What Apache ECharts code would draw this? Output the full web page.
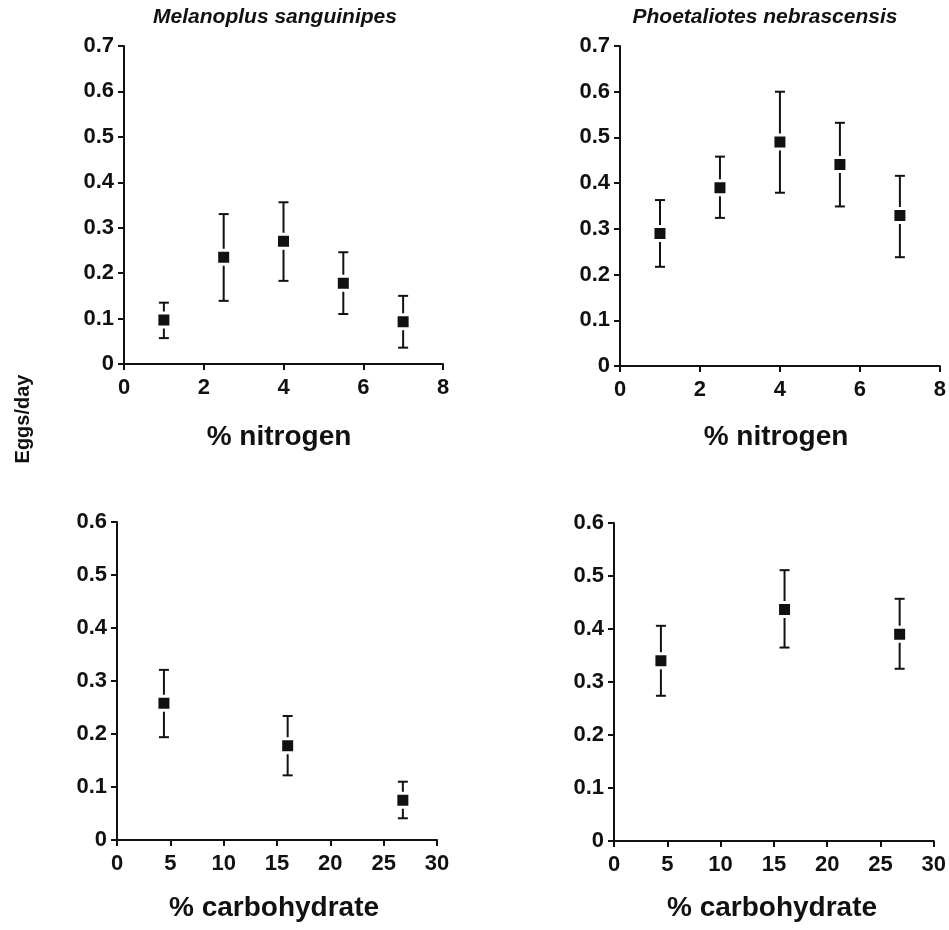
<!DOCTYPE html>
<html>
<head>
<meta charset="utf-8">
<script src="https://cdn.jsdelivr.net/npm/echarts@6/dist/echarts.min.js"></script>
<style>
  html, body { margin: 0; padding: 0; background: #fff; }
  #chart { width: 949px; height: 930px; }
</style>
</head>
<body>
<div id="chart"></div>
<script>
// nitrogen diets
const nitrogenX = [1, 2.5, 4, 5.5, 7];
const msNitroMean = [0.097, 0.235, 0.27, 0.178, 0.093];
const msNitroLow = [0.057, 0.139, 0.183, 0.110, 0.036];
const msNitroHigh = [0.135, 0.330, 0.356, 0.246, 0.150];
const pnNitroMean = [0.290, 0.390, 0.490, 0.441, 0.329];
const pnNitroLow = [0.217, 0.324, 0.379, 0.349, 0.238];
const pnNitroHigh = [0.363, 0.458, 0.600, 0.532, 0.416];

// carbohydrate diets
const carboX = [4.4, 16, 26.8];
const msCarbMean = [0.258, 0.178, 0.075];
const msCarbLow = [0.194, 0.122, 0.041];
const msCarbHigh = [0.321, 0.234, 0.110];
const pnCarbMean = [0.340, 0.437, 0.390];
const pnCarbLow = [0.274, 0.365, 0.325];
const pnCarbHigh = [0.406, 0.511, 0.457];

const titles = ['Melanoplus sanguinipes', 'Phoetaliotes nebrascensis'];
const xNames = ['% nitrogen', '% carbohydrate'];
const yName = 'Eggs/day';

const FONT = '"Liberation Sans", Arial, Helvetica, sans-serif';
const INK = '#111';

const chart = echarts.init(document.getElementById('chart'));

const grids = [
  { left: 124, top: 46, width: 319, height: 318 },
  { left: 620, top: 46, width: 322, height: 320 },
  { left: 117, top: 522, width: 320, height: 318 },
  { left: 614, top: 523, width: 322, height: 318 }
];

function xAxis(i, max, interval) {
  return {
    type: 'value', gridIndex: i, min: 0, max: max, interval: interval,
    splitLine: { show: false },
    axisLine: { lineStyle: { color: INK, width: 2 } },
    axisTick: { length: 6, lineStyle: { color: INK, width: 2 } },
    axisLabel: { color: INK, fontFamily: FONT, fontWeight: 'bold', fontSize: 22, margin: 13 }
  };
}
function yAxis(i, max) {
  return {
    type: 'value', gridIndex: i, min: 0, max: max, interval: 0.1,
    splitLine: { show: false },
    axisLine: { show: true, lineStyle: { color: INK, width: 2 } },
    axisTick: { show: true, length: 6, lineStyle: { color: INK, width: 2 } },
    axisLabel: { color: INK, fontFamily: FONT, fontWeight: 'bold', fontSize: 22, margin: 10,
      formatter: (v) => (v === 0 ? '0' : v.toFixed(1)) }
  };
}

function points(xs, ys) {
  return xs.map((x, i) => [x, ys[i]]);
}
function bars(xs, lo, hi) {
  return xs.map((x, i) => [x, lo[i], hi[i]]);
}

function errorSeries(i, data) {
  return {
    type: 'custom', xAxisIndex: i, yAxisIndex: i, data: data, z: 1,
    renderItem: function (params, api) {
      const top = api.coord([api.value(0), api.value(2)]);
      const bot = api.coord([api.value(0), api.value(1)]);
      const cap = 5;
      const style = { stroke: INK, lineWidth: 2 };
      return {
        type: 'group',
        children: [
          { type: 'line', shape: { x1: top[0], y1: top[1], x2: bot[0], y2: bot[1] }, style: style },
          { type: 'line', shape: { x1: top[0] - cap, y1: top[1], x2: top[0] + cap, y2: top[1] }, style: style },
          { type: 'line', shape: { x1: bot[0] - cap, y1: bot[1], x2: bot[0] + cap, y2: bot[1] }, style: style }
        ]
      };
    }
  };
}
function pointSeries(i, data) {
  return {
    type: 'scatter', xAxisIndex: i, yAxisIndex: i, data: data, z: 2,
    symbol: 'rect', symbolSize: 14,
    itemStyle: { color: INK, borderColor: '#fff', borderWidth: 3, opacity: 1 }
  };
}

function label(text, x, y, size, style, rotation) {
  return {
    type: 'text', x: x, y: y, rotation: rotation || 0,
    style: {
      text: text, fill: INK, textAlign: 'center', textVerticalAlign: 'middle',
      font: (style || '') + ' bold ' + size + 'px ' + FONT
    }
  };
}

chart.setOption({
  animation: false,
  grid: grids,
  xAxis: [xAxis(0, 8, 2), xAxis(1, 8, 2), xAxis(2, 30, 5), xAxis(3, 30, 5)],
  yAxis: [yAxis(0, 0.7), yAxis(1, 0.7), yAxis(2, 0.6), yAxis(3, 0.6)],
  series: [
    errorSeries(0, bars(nitrogenX, msNitroLow, msNitroHigh)),
    pointSeries(0, points(nitrogenX, msNitroMean)),
    errorSeries(1, bars(nitrogenX, pnNitroLow, pnNitroHigh)),
    pointSeries(1, points(nitrogenX, pnNitroMean)),
    errorSeries(2, bars(carboX, msCarbLow, msCarbHigh)),
    pointSeries(2, points(carboX, msCarbMean)),
    errorSeries(3, bars(carboX, pnCarbLow, pnCarbHigh)),
    pointSeries(3, points(carboX, pnCarbMean))
  ],
  graphic: [
    label(titles[0], 275, 17, 21, 'italic'),
    label(titles[1], 765, 17, 21, 'italic'),
    label(xNames[0], 279, 437, 28),
    label(xNames[0], 776, 437, 28),
    label(xNames[1], 274, 908, 28),
    label(xNames[1], 772, 908, 28),
    label(yName, 23, 419, 20, '', Math.PI / 2)
  ]
});

window.addEventListener('resize', function () {
  chart.resize();
});
</script>
</body>
</html>
